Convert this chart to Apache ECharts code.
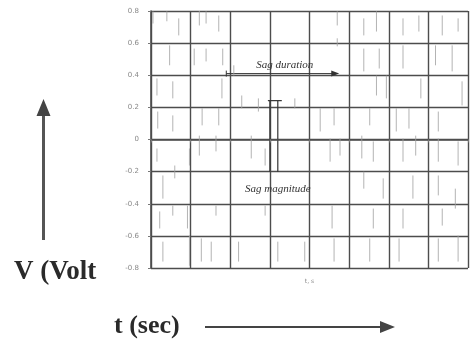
<!DOCTYPE html>
<html>
<head>
<meta charset="utf-8">
<script src="https://cdn.jsdelivr.net/npm/echarts@6/dist/echarts.min.js"></script>
<style>
  html, body { margin: 0; padding: 0; background: #fff; }
  #chart { width: 471px; height: 341px; }
</style>
</head>
<body>
<div id="chart"></div>
<script>
// Oscilloscope record of a voltage sag: 8 x 8 divisions.
const voltTicks = ['-0.8', '-0.6', '-0.4', '-0.2', '0', '0.2', '0.4', '0.6', '0.8'];
const timeTicks = ['', '', '', '', 't, s', '', '', '', ''];

// Trace strokes seen on the screen: [time div, low div, high div]
const traceStrokes = [
  [0.05, 3.61, 3.99], [0.40, 3.68, 3.99], [0.70, 3.24, 3.77], [1.22, 3.55, 4.0],
  [1.39, 3.61, 3.99], [1.71, 3.36, 3.86], [0.47, 2.31, 2.93], [1.09, 2.31, 2.83],
  [1.39, 2.43, 2.83], [1.81, 2.31, 2.83], [1.79, 1.28, 1.90], [0.15, 1.37, 1.90],
  [0.55, 1.28, 1.81], [2.09, 1.99, 2.31], [0.17, 0.34, 0.87], [0.55, 0.25, 0.75],
  [1.29, 0.44, 0.97], [1.71, 0.44, 0.97], [2.29, 0.97, 1.37], [2.71, 0.87, 1.28],
  [4.70, 3.55, 3.99], [5.37, 3.24, 3.77], [5.69, 3.36, 3.99], [6.36, 3.24, 3.77],
  [6.76, 3.36, 3.86], [7.35, 3.24, 3.86], [7.75, 3.36, 3.77], [4.70, 2.90, 3.15],
  [5.37, 2.12, 2.83], [5.76, 2.21, 2.83], [6.36, 2.21, 2.93], [6.81, 1.28, 1.90],
  [7.18, 2.31, 2.93], [7.60, 2.12, 2.93], [7.85, 1.06, 1.81], [3.63, 0.97, 1.28],
  [4.27, 0.25, 0.97], [4.62, 0.44, 0.97], [5.52, 0.44, 0.97], [6.19, 0.25, 0.97],
  [6.51, 0.34, 0.97], [7.25, 0.25, 0.87], [5.69, 1.37, 1.99], [5.94, 1.28, 1.99],
  [0.15, -0.69, -0.28], [0.30, -1.84, -1.12], [0.60, -1.21, -0.81], [0.97, -0.81, -0.28],
  [1.22, -0.50, 0.12], [1.64, -0.37, 0.12], [0.22, -2.77, -2.24], [0.55, -2.37, -2.06],
  [0.92, -2.77, -2.06], [1.64, -2.37, -2.06], [0.97, -3.93, -2.99], [1.27, -3.80, -3.08],
  [1.52, -3.80, -3.18], [0.30, -3.80, -3.18], [2.53, -0.59, 0.12], [2.88, -0.81, -0.28],
  [2.88, -2.37, -2.06], [3.20, -3.80, -3.18], [2.21, -3.80, -3.18],
  [4.52, -0.69, 0.03], [4.77, -0.50, 0.03], [5.32, -0.59, 0.12], [5.61, -0.69, -0.06],
  [6.36, -0.69, 0.03], [6.68, -0.50, 0.12], [7.25, -0.69, 0.03], [7.75, -0.81, -0.06],
  [5.86, -1.84, -1.21], [5.37, -1.53, -1.0], [6.61, -1.84, -1.12], [7.25, -1.74, -1.12],
  [7.68, -2.15, -1.53], [4.57, -2.77, -2.06], [5.61, -2.77, -2.15], [6.36, -2.77, -2.15],
  [7.35, -2.68, -2.15], [4.62, -3.80, -3.08], [5.52, -3.80, -3.08], [6.26, -3.80, -3.08],
  [7.25, -3.80, -3.08], [7.75, -3.80, -2.99], [3.88, -3.80, -3.18]
];

// Sag markers: duration span and magnitude span (divisions)
const sagDuration = { start: 1.9, end: 4.75, level: 2.02 };
const sagMagnitude = { left: 3.0, right: 3.2, top: 1.21, bottom: -1.0 };

const gridColor = '#4d4d4d';
const chart = echarts.init(document.getElementById('chart'), null, { renderer: 'canvas' });

chart.setOption({
  animation: false,
  backgroundColor: '#fff',
  grid: { left: 151, top: 11, right: -2, bottom: 73 },
  xAxis: {
    type: 'value', min: 0, max: 8, interval: 1,
    axisLine: { show: true, lineStyle: { color: gridColor, width: 1.6 } },
    axisTick: { show: true, length: 3, lineStyle: { color: '#777' } },
    axisLabel: {
      fontSize: 6, color: '#888', margin: 10, fontFamily: 'DejaVu Sans',
      formatter: v => timeTicks[Math.round(v)] || ''
    },
    splitLine: { show: true, lineStyle: { color: gridColor, width: 1.4 } }
  },
  yAxis: {
    type: 'value', min: -4, max: 4, interval: 1,
    axisLine: { show: true, lineStyle: { color: gridColor, width: 1.6 } },
    axisTick: { show: true, length: 3, lineStyle: { color: '#777' } },
    axisLabel: {
      fontSize: 7, color: '#888', margin: 12, fontFamily: 'DejaVu Sans',
      formatter: v => voltTicks[Math.round(v) + 4]
    },
    splitLine: { show: true, lineStyle: { color: gridColor, width: 1.4 } }
  },
  series: [{
    type: 'custom',
    name: 'trace',
    data: traceStrokes,
    renderItem: (params, api) => {
      const a = api.coord([api.value(0), api.value(1)]);
      const b = api.coord([api.value(0), api.value(2)]);
      return {
        type: 'line',
        shape: { x1: a[0], y1: a[1], x2: b[0], y2: b[1] },
        style: { stroke: '#a0a0a0', lineWidth: 1, opacity: 0.8 }
      };
    }
  }]
});

// Annotations placed through the grid's coordinate system
const px = (t, v) => chart.convertToPixel({ gridIndex: 0 }, [t, v]);
const d0 = px(sagDuration.start, sagDuration.level);
const d1 = px(sagDuration.end, sagDuration.level);
const mL0 = px(sagMagnitude.left, sagMagnitude.top);
const mL1 = px(sagMagnitude.left, sagMagnitude.bottom);
const mR0 = px(sagMagnitude.right, sagMagnitude.top);
const mR1 = px(sagMagnitude.right, sagMagnitude.bottom);
const durLabel = px((sagDuration.start + sagDuration.end) / 2 + 0.05, sagDuration.level + 0.3);
const magLabel = px(sagMagnitude.right, sagMagnitude.bottom - 0.55);

const ink = '#333';
chart.setOption({
  graphic: [
    // sag duration arrow
    { type: 'line', shape: { x1: d0[0], y1: d0[1] - 1, x2: d1[0] - 6, y2: d1[1] - 1 },
      style: { stroke: ink, lineWidth: 1 } },
    { type: 'polygon', shape: { points: [[d1[0], d1[1] - 1], [d1[0] - 8, d1[1] - 4], [d1[0] - 8, d1[1] + 2]] },
      style: { fill: ink } },
    { type: 'line', shape: { x1: d0[0], y1: d0[1] - 4, x2: d0[0], y2: d0[1] + 2 },
      style: { stroke: ink, lineWidth: 1 } },
    { type: 'text', x: durLabel[0], y: durLabel[1],
      style: { text: 'Sag duration', fontSize: 11, fontStyle: 'italic', fontFamily: 'Liberation Serif',
               fill: '#333', align: 'center', verticalAlign: 'middle' } },
    // sag magnitude bracket
    { type: 'line', shape: { x1: mL0[0], y1: mL0[1], x2: mL1[0], y2: mL1[1] },
      style: { stroke: ink, lineWidth: 1.2 } },
    { type: 'line', shape: { x1: mR0[0], y1: mR0[1], x2: mR1[0], y2: mR1[1] },
      style: { stroke: ink, lineWidth: 1.2 } },
    { type: 'line', shape: { x1: mL0[0] - 2, y1: mL0[1], x2: mR0[0] + 4, y2: mR0[1] },
      style: { stroke: ink, lineWidth: 1.2 } },
    { type: 'text', x: magLabel[0], y: magLabel[1],
      style: { text: 'Sag magnitude', fontSize: 11, fontStyle: 'italic', fontFamily: 'Liberation Serif',
               fill: '#333', align: 'center', verticalAlign: 'middle' } },
    // vertical axis caption with arrow
    { type: 'rect', shape: { x: 42, y: 112, width: 3, height: 128 }, style: { fill: '#555' } },
    { type: 'polygon', shape: { points: [[43.5, 99], [36.5, 116], [50.5, 116]] }, style: { fill: '#444' } },
    { type: 'text', x: 14, y: 272,
      style: { text: 'V (Volt', fontSize: 27, fontWeight: 'bold', fontFamily: 'Liberation Serif',
               fill: '#2a2a2a', verticalAlign: 'middle' } },
    // horizontal axis caption with arrow
    { type: 'text', x: 114, y: 326,
      style: { text: 't (sec)', fontSize: 26, fontWeight: 'bold', fontFamily: 'Liberation Serif',
               fill: '#2a2a2a', verticalAlign: 'middle' } },
    { type: 'rect', shape: { x: 205, y: 326, width: 178, height: 2 }, style: { fill: '#444' } },
    { type: 'polygon', shape: { points: [[395, 327], [380, 321], [380, 333]] }, style: { fill: '#444' } }
  ]
});
</script>
</body>
</html>
